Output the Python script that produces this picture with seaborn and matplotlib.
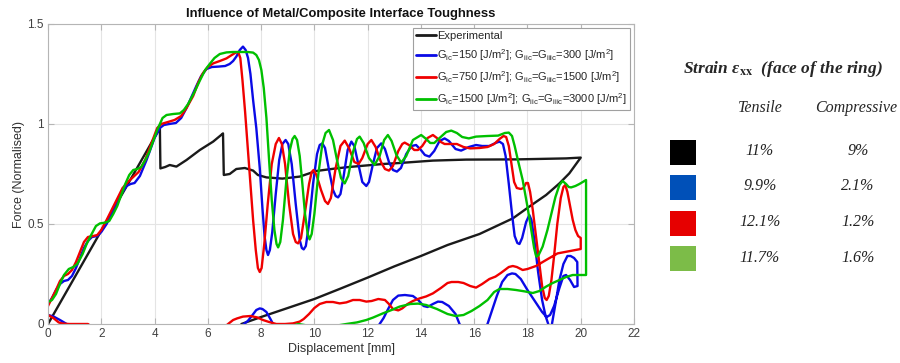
import pandas as pd
import matplotlib.pyplot as plt
import seaborn as sns
from matplotlib.patches import Rectangle

plt.switch_backend('Agg')

# Force-displacement curves, as (displacement mm, normalised force) pairs:
# loading path first, then the unloading path back towards zero
exp_pts = [(0, 0), (4.2, 0.98), (4.22, 0.778), (4.4, 0.785), (4.57, 0.795), (4.82, 0.787), (5.2, 0.82),
           (5.7, 0.87), (6.2, 0.912), (6.5, 0.945), (6.57, 0.953), (6.6, 0.745), (6.82, 0.75), (7.07, 0.775),
           (7.39, 0.78), (7.7, 0.767), (7.88, 0.745), (8.2, 0.733), (8.8, 0.727), (9.45, 0.737), (10.07, 0.765),
           (10.7, 0.776), (11.3, 0.785), (12.57, 0.8), (13.2, 0.805), (14.45, 0.817), (15.7, 0.822),
           (17.57, 0.823), (19.45, 0.828), (20.0, 0.832),
           (19.57, 0.753), (19.2, 0.703), (18.7, 0.645), (18.07, 0.587), (17.45, 0.528), (16.2, 0.45),
           (15.0, 0.395), (14.0, 0.34), (13.0, 0.288), (12.0, 0.232), (11.0, 0.178), (10.0, 0.125),
           (9.0, 0.08), (8.0, 0.035), (7.26, 0.0)]

g150_pts = [(0, 0.1), (0.15, 0.13), (0.3, 0.17), (0.45, 0.2), (0.6, 0.215), (0.75, 0.22), (0.9, 0.24),
            (1.05, 0.28), (1.2, 0.33), (1.35, 0.38), (1.5, 0.415), (1.65, 0.435), (1.85, 0.44), (2.0, 0.46),
            (2.2, 0.5), (2.5, 0.58), (2.75, 0.65), (2.95, 0.69), (3.1, 0.7), (3.25, 0.705), (3.45, 0.74),
            (3.7, 0.82), (4.0, 0.93), (4.2, 0.98), (4.35, 0.995), (4.55, 1.0), (4.8, 1.005), (5.0, 1.03),
            (5.2, 1.08), (5.4, 1.14), (5.57, 1.19), (5.75, 1.24), (5.95, 1.275), (6.15, 1.285), (6.4, 1.287),
            (6.65, 1.29), (6.82, 1.3), (6.95, 1.315), (7.07, 1.337), (7.2, 1.37), (7.32, 1.387), (7.42, 1.37),
            (7.51, 1.33), (7.6, 1.25), (7.7, 1.12), (7.82, 0.98), (7.95, 0.78), (8.05, 0.58), (8.13, 0.44),
            (8.2, 0.37), (8.26, 0.345), (8.33, 0.37), (8.42, 0.46), (8.55, 0.65), (8.68, 0.82), (8.8, 0.9),
            (8.92, 0.92), (9.02, 0.9), (9.15, 0.8), (9.3, 0.6), (9.45, 0.42), (9.53, 0.38), (9.6, 0.373),
            (9.68, 0.39), (9.8, 0.5), (9.95, 0.7), (10.1, 0.85), (10.2, 0.895), (10.3, 0.903), (10.4, 0.88),
            (10.55, 0.77), (10.7, 0.67), (10.8, 0.64), (10.89, 0.633), (10.98, 0.65), (11.1, 0.74),
            (11.25, 0.87), (11.39, 0.912), (11.5, 0.89), (11.65, 0.8), (11.8, 0.71), (11.95, 0.69),
            (12.05, 0.71), (12.2, 0.8), (12.35, 0.88), (12.51, 0.903), (12.65, 0.875), (12.8, 0.81),
            (12.95, 0.77), (13.1, 0.762), (13.25, 0.78), (13.45, 0.85), (13.65, 0.89), (13.82, 0.895),
            (14.0, 0.87), (14.15, 0.845), (14.32, 0.837), (14.5, 0.865), (14.7, 0.915), (14.89, 0.928),
            (15.05, 0.915), (15.3, 0.875), (15.51, 0.867), (15.8, 0.885), (16.07, 0.895), (16.3, 0.89),
            (16.57, 0.89), (16.8, 0.905), (16.95, 0.912), (17.08, 0.9), (17.18, 0.84), (17.3, 0.7),
            (17.42, 0.55), (17.52, 0.44), (17.62, 0.405), (17.7, 0.4), (17.8, 0.43), (17.95, 0.51),
            (18.07, 0.545), (18.15, 0.52), (18.26, 0.42), (18.4, 0.26), (18.55, 0.12), (18.68, 0.04),
            (18.78, 0.0), (18.85, -0.03), (18.92, 0.0), (19.05, 0.1), (19.2, 0.22), (19.35, 0.3), (19.5, 0.34),
            (19.62, 0.34), (19.75, 0.33), (19.87, 0.31), (19.88, 0.19), (19.75, 0.185), (19.6, 0.22),
            (19.45, 0.245), (19.35, 0.24), (19.2, 0.18), (19.0, 0.09), (18.85, 0.045), (18.72, 0.035),
            (18.55, 0.06), (18.3, 0.11), (18.0, 0.17), (17.75, 0.225), (17.55, 0.25), (17.42, 0.253),
            (17.25, 0.245), (17.05, 0.21), (16.85, 0.14), (16.65, 0.06), (16.5, 0.0), (16.0, -0.1),
            (15.45, 0.0), (15.3, 0.05), (15.05, 0.09), (14.8, 0.11), (14.64, 0.112), (14.45, 0.1),
            (14.25, 0.085), (14.1, 0.09), (13.9, 0.12), (13.7, 0.14), (13.4, 0.145), (13.15, 0.142),
            (12.95, 0.12), (12.75, 0.07), (12.6, 0.03), (12.45, 0.0), (12.0, -0.1), (10.0, -0.15),
            (8.6, -0.02), (8.45, 0.0), (8.35, 0.025), (8.2, 0.06), (8.05, 0.075), (7.95, 0.078), (7.82, 0.07),
            (7.65, 0.04), (7.5, 0.015), (7.35, 0.0), (7.0, -0.05), (3.0, -0.1), (1.0, -0.02), (0.7, 0.0),
            (0.45, 0.02), (0.2, 0.038), (0, 0.045)]

g750_pts = [(0, 0.09), (0.15, 0.13), (0.3, 0.17), (0.45, 0.215), (0.6, 0.24), (0.75, 0.25), (0.9, 0.27),
            (1.05, 0.31), (1.2, 0.36), (1.35, 0.41), (1.5, 0.435), (1.7, 0.44), (1.85, 0.445), (2.0, 0.47),
            (2.2, 0.52), (2.5, 0.6), (2.8, 0.68), (3.0, 0.71), (3.2, 0.735), (3.4, 0.76), (3.65, 0.82),
            (3.9, 0.91), (4.1, 0.98), (4.25, 1.0), (4.5, 1.01), (4.75, 1.02), (5.0, 1.04), (5.2, 1.08),
            (5.45, 1.14), (5.65, 1.21), (5.82, 1.255), (6.0, 1.285), (6.2, 1.303), (6.45, 1.315), (6.7, 1.328),
            (6.9, 1.345), (7.05, 1.357), (7.14, 1.36), (7.22, 1.33), (7.3, 1.22), (7.4, 1.06), (7.5, 0.88),
            (7.6, 0.7), (7.7, 0.52), (7.8, 0.37), (7.88, 0.28), (7.95, 0.26), (8.02, 0.28), (8.12, 0.4),
            (8.25, 0.6), (8.4, 0.8), (8.55, 0.9), (8.67, 0.93), (8.78, 0.9), (8.9, 0.8), (9.05, 0.6),
            (9.2, 0.45), (9.3, 0.41), (9.39, 0.403), (9.5, 0.43), (9.65, 0.56), (9.8, 0.7), (9.9, 0.76),
            (9.97, 0.77), (10.08, 0.745), (10.25, 0.67), (10.4, 0.615), (10.51, 0.6), (10.62, 0.63),
            (10.8, 0.78), (10.98, 0.89), (11.14, 0.917), (11.3, 0.88), (11.5, 0.81), (11.66, 0.8),
            (11.8, 0.83), (12.0, 0.9), (12.14, 0.92), (12.3, 0.885), (12.5, 0.81), (12.65, 0.775),
            (12.8, 0.767), (12.95, 0.79), (13.15, 0.865), (13.3, 0.9), (13.39, 0.907), (13.55, 0.895),
            (13.75, 0.87), (13.89, 0.87), (14.05, 0.89), (14.25, 0.93), (14.45, 0.945), (14.6, 0.93),
            (14.75, 0.91), (14.89, 0.9), (15.1, 0.9), (15.35, 0.9), (15.6, 0.885), (15.85, 0.878),
            (16.2, 0.88), (16.5, 0.885), (16.75, 0.9), (16.95, 0.925), (17.1, 0.94), (17.2, 0.935),
            (17.3, 0.89), (17.4, 0.8), (17.5, 0.71), (17.6, 0.68), (17.75, 0.675), (17.85, 0.68),
            (17.95, 0.705), (18.02, 0.705), (18.1, 0.66), (18.2, 0.57), (18.32, 0.44), (18.45, 0.3),
            (18.55, 0.19), (18.65, 0.13), (18.72, 0.12), (18.8, 0.14), (18.9, 0.22), (19.0, 0.34),
            (19.12, 0.5), (19.25, 0.63), (19.35, 0.685), (19.42, 0.695), (19.5, 0.66), (19.6, 0.59),
            (19.7, 0.52), (19.8, 0.47), (19.9, 0.44), (20.0, 0.43), (20.0, 0.375),
            (19.6, 0.365), (19.13, 0.353), (18.7, 0.32), (18.32, 0.29), (18.0, 0.275), (17.82, 0.27),
            (17.6, 0.285), (17.45, 0.29), (17.3, 0.285), (17.0, 0.255), (16.8, 0.237), (16.57, 0.225),
            (16.3, 0.2), (16.07, 0.182), (15.85, 0.19), (15.6, 0.205), (15.4, 0.21), (15.15, 0.21),
            (15.0, 0.205), (14.75, 0.18), (14.45, 0.153), (14.2, 0.138), (13.95, 0.128), (13.7, 0.115),
            (13.5, 0.1), (13.3, 0.078), (13.15, 0.068), (12.95, 0.075), (12.8, 0.1), (12.65, 0.12),
            (12.4, 0.125), (12.15, 0.115), (11.95, 0.112), (11.7, 0.12), (11.45, 0.12), (11.2, 0.108),
            (10.95, 0.103), (10.7, 0.11), (10.45, 0.11), (10.2, 0.1), (10.0, 0.08), (9.8, 0.05), (9.6, 0.025),
            (9.45, 0.012), (9.2, 0.003), (8.9, 0.0), (8.57, 0.0), (8.3, 0.01), (8.07, 0.02), (7.85, 0.033),
            (7.6, 0.04), (7.32, 0.037), (7.1, 0.028), (6.95, 0.02), (6.76, 0.0), (6.5, -0.03), (3.0, -0.06),
            (1.6, -0.01), (1.5, 0.0), (0.8, 0.0), (0.55, 0.002), (0.4, 0.008), (0.2, 0.03), (0, 0.045)]

g1500_pts = [(0, 0.11), (0.15, 0.12), (0.3, 0.15), (0.45, 0.2), (0.6, 0.245), (0.78, 0.275), (0.95, 0.285),
             (1.1, 0.3), (1.3, 0.35), (1.45, 0.4), (1.6, 0.44), (1.8, 0.49), (1.95, 0.503), (2.15, 0.507),
             (2.3, 0.515), (2.45, 0.55), (2.6, 0.59), (2.9, 0.7), (3.05, 0.745), (3.2, 0.77), (3.35, 0.775),
             (3.5, 0.785), (3.65, 0.82), (3.8, 0.86), (4.1, 0.97), (4.3, 1.03), (4.45, 1.045), (4.7, 1.05),
             (4.95, 1.053), (5.1, 1.07), (5.26, 1.1), (5.5, 1.16), (5.7, 1.217), (5.9, 1.27), (6.07, 1.3),
             (6.25, 1.33), (6.45, 1.35), (6.7, 1.358), (6.95, 1.36), (7.5, 1.36), (7.7, 1.357), (7.82, 1.345),
             (7.92, 1.32), (8.01, 1.27), (8.1, 1.18), (8.2, 1.03), (8.3, 0.82), (8.4, 0.62), (8.5, 0.47),
             (8.58, 0.4), (8.64, 0.383), (8.72, 0.41), (8.82, 0.52), (8.95, 0.72), (9.08, 0.87), (9.18, 0.925),
             (9.26, 0.94), (9.35, 0.92), (9.45, 0.84), (9.55, 0.7), (9.65, 0.55), (9.75, 0.45), (9.82, 0.423),
             (9.9, 0.45), (10.0, 0.55), (10.15, 0.75), (10.3, 0.9), (10.42, 0.955), (10.55, 0.97), (10.7, 0.92),
             (10.85, 0.82), (11.0, 0.73), (11.14, 0.703), (11.27, 0.74), (11.45, 0.86), (11.6, 0.925),
             (11.7, 0.937), (11.85, 0.905), (12.05, 0.83), (12.26, 0.795), (12.45, 0.84), (12.62, 0.92),
             (12.76, 0.945), (12.9, 0.915), (13.08, 0.845), (13.26, 0.807), (13.45, 0.84), (13.7, 0.92),
             (14.01, 0.945), (14.2, 0.925), (14.35, 0.905), (14.5, 0.905), (14.7, 0.93), (14.95, 0.96),
             (15.14, 0.967), (15.35, 0.955), (15.55, 0.935), (15.8, 0.928), (16.07, 0.937), (16.5, 0.94),
             (16.9, 0.942), (17.15, 0.955), (17.3, 0.957), (17.42, 0.94), (17.52, 0.89), (17.64, 0.82),
             (17.82, 0.72), (18.0, 0.587), (18.15, 0.465), (18.25, 0.38), (18.33, 0.337), (18.42, 0.345),
             (18.57, 0.387), (18.75, 0.47), (18.9, 0.553), (19.05, 0.635), (19.2, 0.695), (19.32, 0.715),
             (19.45, 0.7), (19.55, 0.685), (19.64, 0.683), (19.8, 0.69), (19.95, 0.7), (20.2, 0.72),
             (20.2, 0.245),
             (19.95, 0.245), (19.7, 0.245), (19.45, 0.235), (19.2, 0.22), (18.95, 0.205), (18.7, 0.187),
             (18.45, 0.165), (18.2, 0.155), (17.9, 0.163), (17.57, 0.17), (17.25, 0.175), (16.95, 0.175),
             (16.75, 0.16), (16.5, 0.12), (16.2, 0.09), (15.9, 0.065), (15.6, 0.045), (15.3, 0.04),
             (15.0, 0.05), (14.6, 0.075), (14.2, 0.095), (13.9, 0.102), (13.6, 0.1), (13.2, 0.087),
             (12.9, 0.07), (12.57, 0.053), (12.2, 0.032), (11.95, 0.02), (11.6, 0.008), (11.2, 0.0),
             (10.3, -0.02), (9.4, 0.0), (8.6, -0.03), (7.0, -0.1)]

series = [exp_pts, g150_pts, g750_pts, g1500_pts]
labels = ['Experimental',
          r'G$_{\mathrm{ic}}$=150 [J/m$^2$]; G$_{\mathrm{iic}}$=G$_{\mathrm{iiic}}$=300 [J/m$^2$]',
          r'G$_{\mathrm{ic}}$=750 [J/m$^2$]; G$_{\mathrm{iic}}$=G$_{\mathrm{iiic}}$=1500 [J/m$^2$]',
          r'G$_{\mathrm{ic}}$=1500 [J/m$^2$]; G$_{\mathrm{iic}}$=G$_{\mathrm{iiic}}$=3000 [J/m$^2$]']
line_colors = ['#1a1a1a', '#0a0ae6', '#f00000', '#00c000']

# Strain table on the right
swatch_colors = ['#000000', '#0050b8', '#e60000', '#7cbc48']
tensile = ['11%', '9.9%', '12.1%', '11.7%']
compressive = ['9%', '2.1%', '1.2%', '1.6%']

sns.set_theme(style='whitegrid')
plt.rcParams['font.family'] = ['Liberation Sans', 'DejaVu Sans']
plt.rcParams['mathtext.fontset'] = 'custom'
plt.rcParams['mathtext.rm'] = 'Liberation Sans'
plt.rcParams['mathtext.it'] = 'Liberation Sans:italic'
plt.rcParams['mathtext.bf'] = 'Liberation Sans:bold'

fig = plt.figure(figsize=(9, 3.63), dpi=100)
ax = fig.add_axes([48 / 900, 39 / 363, 586 / 900, 300 / 363])

for pts, lab, col in zip(series, labels, line_colors):
    df = pd.DataFrame(pts, columns=['disp', 'force'])
    sns.lineplot(data=df, x='disp', y='force', sort=False, estimator=None, color=col,
                 linewidth=1.7, label=lab, ax=ax)

ax.set_xlim(0, 22)
ax.set_ylim(0, 1.5)
ax.set_xticks(range(0, 23, 2))
ax.set_yticks([0, 0.5, 1, 1.5])
ax.set_yticklabels(['0', '0.5', '1', '1.5'])
ax.set_facecolor('white')
ax.grid(True, color='#e4e4e4', linewidth=0.8)
for sp in ax.spines.values():
    sp.set_color('#b5b5b5')
    sp.set_linewidth(0.8)
ax.tick_params(direction='in', length=4, width=0.8, color='#b5b5b5', labelsize=8.5,
               labelcolor='#404040', top=True, right=True, bottom=True, left=True, pad=3)
ax.set_xlabel('Displacement [mm]', fontsize=9, color='#303030', labelpad=2)
ax.set_ylabel('Force (Normalised)', fontsize=9, color='#303030', labelpad=2)
ax.set_title('Influence of Metal/Composite Interface Toughness', fontsize=9.4,
             fontweight='bold', color='#111111', pad=5)

leg = ax.legend(loc='upper right', fontsize=8, frameon=True, fancybox=False, framealpha=1,
                edgecolor='#a0a0a0', borderaxespad=0.35, handlelength=1.8, handletextpad=0.1,
                labelspacing=0.55, borderpad=0.3)
leg.get_frame().set_linewidth(0.8)
for lh in leg.get_lines():
    lh.set_linewidth(2.0)


def fx(px):
    return px / 900


def fy(py):
    return 1 - py / 363


fig.text(fx(783), fy(69), 'Strain ε' + r'$_{\mathbf{xx}}$' + '  (face of the ring)', ha='center', va='center',
         family='Liberation Serif', style='italic', weight='bold', size=12.5,
         math_fontfamily='stix')
fig.text(fx(760), fy(108), 'Tensile', ha='center', va='center', family='Liberation Serif',
         style='italic', size=11.5)
fig.text(fx(856), fy(108), 'Compressive', ha='center', va='center', family='Liberation Serif',
         style='italic', size=11.5)
for i in range(4):
    yc = 152 + 35.5 * i
    fig.add_artist(Rectangle((fx(670), fy(yc + 12.5)), 26 / 900, 25 / 363,
                             transform=fig.transFigure, facecolor=swatch_colors[i], edgecolor='none'))
    fig.text(fx(760), fy(yc - 1), tensile[i], ha='center', va='center', family='Liberation Serif',
             style='italic', size=11.5, color='#222222')
    fig.text(fx(858), fy(yc - 1), compressive[i], ha='center', va='center', family='Liberation Serif',
             style='italic', size=11.5, color='#222222')

fig.savefig('out.png', dpi=100, facecolor='white')
